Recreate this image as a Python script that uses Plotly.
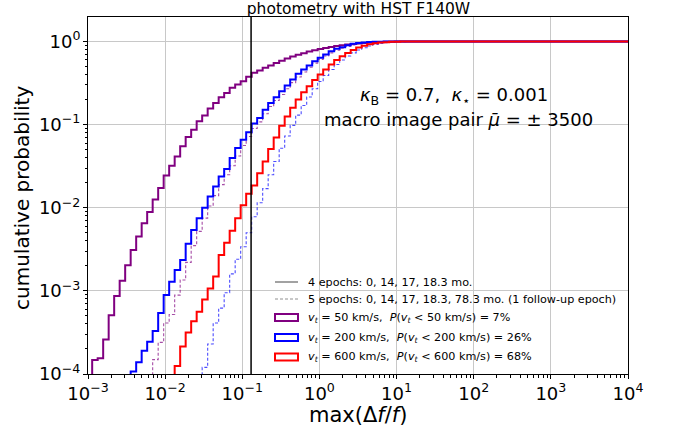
import numpy as np
import plotly.graph_objects as go

# ---- histogram bins (log-spaced, shared by every curve) ----
LOG_EDGE_START = -2.946
LOG_BIN_WIDTH = 0.0713
N_BINS = 98
edges = 10 ** (LOG_EDGE_START + LOG_BIN_WIDTH * np.arange(N_BINS + 1))

# ---- cumulative probability per bin, starting at the first populated bin ----
# 4 epochs, v_t = 50 km/s
start_50_4ep = 0
cdf_50_4ep = [1.47e-4, 1.55e-4, 2.6e-4, 5.1e-4, 8.7e-4, 1.32e-3, 2.04e-3, 3.1e-3,
              4.5e-3, 6.5e-3, 8.9e-3, 1.26e-2, 1.73e-2, 2.45e-2, 3.2e-2, 4.15e-2,
              5.5e-2, 7.1e-2, 8.7e-2, 0.110, 0.129, 0.156, 0.182, 0.213, 0.241,
              0.277, 0.303, 0.333, 0.376, 0.420, 0.448, 0.482, 0.514, 0.553, 0.589,
              0.624, 0.661, 0.692, 0.724, 0.759, 0.785, 0.813, 0.838, 0.861, 0.881,
              0.902, 0.918, 0.933, 0.946, 0.959, 0.970, 0.979, 0.986, 0.991, 0.995,
              0.998, 1.0]
# 4 epochs, v_t = 200 km/s
start_200_4ep = 7
cdf_200_4ep = [1.07e-4, 1.38e-4, 1.9e-4, 2.45e-4, 3.3e-4, 5.4e-4, 8.9e-4, 1.29e-3,
               1.78e-3, 2.35e-3, 3.7e-3, 5.4e-3, 7.5e-3, 1.0e-2, 1.37e-2, 1.8e-2,
               2.38e-2, 2.92e-2, 3.97e-2, 5.25e-2, 6.6e-2, 8.1e-2, 0.103, 0.120,
               0.151, 0.182, 0.213, 0.252, 0.295, 0.348, 0.410, 0.460, 0.514, 0.579,
               0.637, 0.697, 0.764, 0.817, 0.854, 0.902, 0.938, 0.957, 0.975, 0.985,
               0.992, 0.996, 0.998, 1.0]
# 4 epochs, v_t = 600 km/s
start_600_4ep = 15
cdf_600_4ep = [1.25e-4, 2.14e-4, 3.16e-4, 4.3e-4, 5.6e-4, 7.9e-4, 1.07e-3, 1.49e-3,
               2.7e-3, 3.8e-3, 5.3e-3, 7.5e-3, 1.07e-2, 1.47e-2, 1.85e-2, 2.6e-2,
               3.6e-2, 5.1e-2, 7.0e-2, 0.097, 0.125, 0.160, 0.200, 0.245, 0.290,
               0.345, 0.400, 0.460, 0.530, 0.600, 0.665, 0.730, 0.790, 0.845, 0.890,
               0.925, 0.952, 0.970, 0.983, 0.991, 0.996, 1.0]
# 5 epochs, v_t = 50 km/s
start_50_5ep = 11
cdf_50_5ep = [1.49e-4, 2.4e-4, 4.1e-4, 5.2e-4, 8.9e-4, 1.35e-3, 2.2e-3, 3.5e-3,
              5.2e-3, 7.5e-3, 1.05e-2, 1.4e-2, 1.9e-2, 2.5e-2, 3.2e-2, 4.2e-2,
              5.6e-2, 7.2e-2, 9.0e-2, 0.108, 0.135, 0.165, 0.195, 0.230, 0.270,
              0.320, 0.375, 0.430, 0.490, 0.550, 0.610, 0.670, 0.730, 0.785, 0.830,
              0.875, 0.910, 0.940, 0.960, 0.975, 0.986, 0.993, 0.997, 1.0]
# 5 epochs, v_t = 200 km/s
start_200_5ep = 20
cdf_200_5ep = [1.2e-4, 2.3e-4, 4.1e-4, 6.2e-4, 9.5e-4, 1.6e-3, 2.4e-3, 3.4e-3,
               5.0e-3, 7.8e-3, 1.15e-2, 1.7e-2, 2.5e-2, 3.6e-2, 5.2e-2, 7.3e-2,
               0.098, 0.130, 0.170, 0.215, 0.270, 0.330, 0.390, 0.460, 0.530, 0.600,
               0.670, 0.730, 0.790, 0.840, 0.885, 0.920, 0.950, 0.970, 0.984, 0.993,
               0.998, 1.0]

# epoch-baseline threshold marked by the vertical line
threshold = 0.13

# tick labels
x_tick_exps = [-3, -2, -1, 0, 1, 2, 3, 4]
y_tick_exps = [-4, -3, -2, -1, 0]
x_tick_labels = ["10<sup>\u22123</sup>", "10<sup>\u22122</sup>", "10<sup>\u22121</sup>",
                 "10<sup>0</sup>", "10<sup>1</sup>", "10<sup>2</sup>",
                 "10<sup>3</sup>", "10<sup>4</sup>"]
y_tick_labels = ["10<sup>\u22124</sup>", "10<sup>\u22123</sup>", "10<sup>\u22122</sup>",
                 "10<sup>\u22121</sup>", "10<sup>0</sup>"]

FONT = "DejaVu Sans"
PURPLE = "#800080"
BLUE = "#0000ff"
RED = "#ff0000"


def step_xy(first_bin, values):
    """Cumulative step outline: vertical rise at the first edge, flat at 1 to the end."""
    vals = list(values) + [1.0] * (N_BINS - first_bin - len(values))
    x = [edges[first_bin]] + list(edges[first_bin:first_bin + len(vals)]) + [edges[first_bin + len(vals)]]
    y = [1e-6] + vals + [vals[-1]]
    return x, y


fig = go.Figure()

# dashed (5-epoch) curves underneath
for start, vals, color in [(start_50_5ep, cdf_50_5ep, "rgba(128,0,128,0.7)"),
                           (start_200_5ep, cdf_200_5ep, "rgba(0,0,255,0.7)")]:
    x, y = step_xy(start, vals)
    fig.add_trace(go.Scatter(x=x, y=y, mode="lines", line_shape="hv",
                             line=dict(color=color, width=1.1, dash="3px,2px"),
                             showlegend=False, hoverinfo="skip"))

# solid (4-epoch) curves
for start, vals, color in [(start_50_4ep, cdf_50_4ep, PURPLE),
                           (start_200_4ep, cdf_200_4ep, BLUE),
                           (start_600_4ep, cdf_600_4ep, RED)]:
    x, y = step_xy(start, vals)
    fig.add_trace(go.Scatter(x=x, y=y, mode="lines", line_shape="hv",
                             line=dict(color=color, width=2),
                             showlegend=False, hoverinfo="skip"))

# vertical threshold line
fig.add_trace(go.Scatter(x=[threshold, threshold], y=[1e-5, 10], mode="lines",
                         line=dict(color="black", width=1.5),
                         showlegend=False, hoverinfo="skip"))

# ---- layout geometry (pixels) ----
W, H = 673, 434
L, R, T, B = 88, 45, 17, 60
PW, PH = W - L - R, H - T - B


def px(xp):
    return (xp - L) / PW


def py(yp):
    return (H - B - yp) / PH


minor_x = [m * 10.0 ** e for e in range(-3, 4) for m in range(2, 10)]
minor_y = [m * 10.0 ** e for e in range(-4, 0) for m in range(2, 10)]

axis_common = dict(
    type="log", tickmode="array",
    ticks="outside", ticklen=4, tickwidth=1, tickcolor="black",
    ticklabelstandoff=-1,
    showline=True, linecolor="black", linewidth=1, mirror=True,
    showgrid=True, gridcolor="#c8c8c8", gridwidth=1, zeroline=False,
    tickfont=dict(size=18, family=FONT),
)

fig.update_layout(
    width=W, height=H,
    margin=dict(l=L, r=R, t=T, b=B),
    paper_bgcolor="white", plot_bgcolor="white",
    font=dict(family=FONT, color="black"),
    showlegend=False,
    title=dict(text="photometry with HST F140W", x=358.5 / W,
               xanchor="center", y=1 - 8.5 / H, yanchor="middle",
               font=dict(size=15.5, family=FONT, color="black")),
    xaxis=dict(axis_common, range=[-3, 4],
               tickvals=[10.0 ** e for e in x_tick_exps], ticktext=x_tick_labels,
               minor=dict(tickvals=minor_x, ticks="outside", ticklen=2.5,
                          tickcolor="black", showgrid=False)),
    yaxis=dict(axis_common, range=[-4, 0.295],
               tickvals=[10.0 ** e for e in y_tick_exps], ticktext=y_tick_labels,
               minor=dict(tickvals=minor_y, ticks="outside", ticklen=2.5,
                          tickcolor="black", showgrid=False)),
)

annotations = [
    # axis titles
    dict(text="max(\u0394<i>f</i>/<i>f</i>)", xref="paper", yref="paper",
         x=px(357.5), y=py(415), xanchor="center", yanchor="middle",
         showarrow=False, font=dict(size=21, family=FONT)),
    dict(text="cumulative probability", xref="paper", yref="paper",
         x=px(22), y=py(198), xanchor="center", yanchor="middle", textangle=-90,
         showarrow=False, font=dict(size=20, family=FONT)),
    # model parameters
    dict(text="<i>\u03ba</i><sub>B</sub> = 0.7,  <i>\u03ba</i><sub>\u22c6</sub> = 0.001",
         xref="paper", yref="paper", x=px(454), y=py(96), xanchor="center",
         yanchor="middle", showarrow=False, font=dict(size=18, family=FONT)),
    dict(text="macro image pair <i>\u03bc\u0304</i> = \u00b1 3500",
         xref="paper", yref="paper", x=px(458), y=py(119), xanchor="center",
         yanchor="middle", showarrow=False, font=dict(size=18, family=FONT)),
]

# ---- hand-built legend ----
legend_rows = [
    ("line", "#707070", "solid", "4 epochs: 0, 14, 17, 18.3 mo.", 282),
    ("line", "#909090", "dash", "5 epochs: 0, 14, 17, 18.3, 78.3 mo. (1 follow-up epoch)", 299),
    ("box", PURPLE, None, "<i>v</i><sub><i>t</i></sub> = 50 km/s,  <i>P</i>(<i>v</i><sub><i>t</i></sub> &lt; 50 km/s) = 7%", 317.5),
    ("box", BLUE, None, "<i>v</i><sub><i>t</i></sub> = 200 km/s,  <i>P</i>(<i>v</i><sub><i>t</i></sub> &lt; 200 km/s) = 26%", 337.5),
    ("box", RED, None, "<i>v</i><sub><i>t</i></sub> = 600 km/s,  <i>P</i>(<i>v</i><sub><i>t</i></sub> &lt; 600 km/s) = 68%", 357),
]
shapes = []
for kind, color, dash, label, yc in legend_rows:
    if kind == "line":
        shapes.append(dict(type="line", xref="paper", yref="paper",
                           x0=px(275), x1=px(298), y0=py(yc), y1=py(yc),
                           line=dict(color=color, width=1.3 if dash == "solid" else 1,
                                     dash="solid" if dash == "solid" else "3px,2px")))
    else:
        shapes.append(dict(type="rect", xref="paper", yref="paper",
                           x0=px(275), x1=px(298), y0=py(yc + 3.5), y1=py(yc - 3.5),
                           line=dict(color=color, width=2), fillcolor="rgba(0,0,0,0)"))
    annotations.append(dict(text=label, xref="paper", yref="paper", x=px(306),
                            y=py(yc), xanchor="left", yanchor="middle",
                            showarrow=False, font=dict(size=11.2, family=FONT)))

fig.update_layout(annotations=annotations, shapes=shapes)

fig.write_html("out.html")
